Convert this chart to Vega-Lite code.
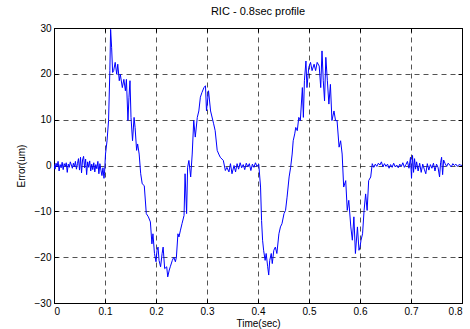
{
  "$schema": "https://vega.github.io/schema/vega-lite/v6.json",
  "autosize": "none",
  "width": 408,
  "height": 275,
  "padding": {"left": 54, "top": 28, "right": 8, "bottom": 26},
  "background": "white",
  "title": {"text": "RIC - 0.8sec profile", "font": "Liberation Sans", "fontSize": 11, "fontWeight": "normal", "color": "black", "offset": 6},
  "config": {
    "view": {"stroke": "black", "strokeWidth": 1},
    "axis": {"labelFont": "Liberation Sans", "titleFont": "Liberation Sans", "labelFontSize": 10, "titleFontSize": 10, "titleFontWeight": "normal", "labelColor": "black", "titleColor": "black", "domain": false, "tickColor": "black", "tickSize": -4}
  },
  "data": {"values": [
    {"t":0,"v":0.3},{"t":0.002,"v":-0.8},{"t":0.004,"v":0.5},{"t":0.006,"v":-0.3},{"t":0.008,"v":0.9},{"t":0.01,"v":-1.2},{"t":0.012,"v":0.2},{"t":0.014,"v":-0.5},{"t":0.016,"v":0.7},{"t":0.018,"v":-0.9},{"t":0.02,"v":0.4},{"t":0.022,"v":-0.2},{"t":0.024,"v":0.6},{"t":0.026,"v":-1.5},{"t":0.028,"v":0.3},{"t":0.03,"v":-0.4},{"t":0.032,"v":0.8},{"t":0.034,"v":0.1},{"t":0.036,"v":-0.6},{"t":0.038,"v":0.5},{"t":0.04,"v":-0.3},{"t":0.042,"v":0.9},{"t":0.044,"v":-0.8},{"t":0.046,"v":0.4},{"t":0.048,"v":1.5},{"t":0.05,"v":-1.0},{"t":0.052,"v":1.8},{"t":0.054,"v":-1.6},{"t":0.056,"v":1.2},{"t":0.058,"v":2.0},{"t":0.06,"v":-0.5},{"t":0.062,"v":1.4},{"t":0.064,"v":-2.0},{"t":0.066,"v":0.8},{"t":0.068,"v":-0.4},{"t":0.07,"v":1.0},{"t":0.072,"v":-1.2},{"t":0.074,"v":0.3},{"t":0.076,"v":-0.9},{"t":0.078,"v":0.6},{"t":0.08,"v":-1.4},{"t":0.082,"v":0.2},{"t":0.084,"v":-0.7},{"t":0.086,"v":0.9},{"t":0.088,"v":-1.8},{"t":0.09,"v":0.4},{"t":0.092,"v":-1.0},{"t":0.094,"v":-2.2},{"t":0.096,"v":-0.5},{"t":0.098,"v":-2.8},
    {"t":0.099,"v":-1.8},{"t":0.101,"v":2.5},{"t":0.104,"v":5.4},{"t":0.107,"v":9.8},{"t":0.1095,"v":20.7},{"t":0.111,"v":29.7},{"t":0.113,"v":25.7},{"t":0.115,"v":20.3},{"t":0.117,"v":20.7},{"t":0.12,"v":22.5},{"t":0.123,"v":19.9},{"t":0.125,"v":22.1},{"t":0.128,"v":18.5},{"t":0.13,"v":19.9},{"t":0.134,"v":17},{"t":0.137,"v":18.8},{"t":0.14,"v":16.3},{"t":0.142,"v":18.8},{"t":0.145,"v":9.8},{"t":0.147,"v":14.9},{"t":0.149,"v":18.5},{"t":0.151,"v":10.5},{"t":0.154,"v":5.4},{"t":0.157,"v":10.5},{"t":0.159,"v":8.3},{"t":0.162,"v":3.3},{"t":0.164,"v":4.7},{"t":0.167,"v":2.5},{"t":0.17,"v":-1.8},{"t":0.173,"v":-4},{"t":0.177,"v":-4.4},{"t":0.181,"v":-10.5},{"t":0.185,"v":-11.2},{"t":0.189,"v":-12.3},{"t":0.192,"v":-17.1},{"t":0.194,"v":-14.9},{"t":0.197,"v":-19.2},{"t":0.2,"v":-21},{"t":0.202,"v":-18.5},{"t":0.204,"v":-17.8},{"t":0.206,"v":-20.7},{"t":0.209,"v":-22.1},{"t":0.212,"v":-19.2},{"t":0.214,"v":-17.8},{"t":0.217,"v":-22.5},{"t":0.221,"v":-22.1},{"t":0.223,"v":-24.3},{"t":0.226,"v":-22.8},{"t":0.228,"v":-22.1},{"t":0.232,"v":-20.7},{"t":0.235,"v":-20},{"t":0.238,"v":-21},{"t":0.24,"v":-20},{"t":0.243,"v":-14.9},{"t":0.245,"v":-15.6},{"t":0.248,"v":-14.1},{"t":0.251,"v":-12.7},{"t":0.255,"v":-10.9},{"t":0.257,"v":-1.8},{"t":0.26,"v":-10.5},{"t":0.262,"v":-0.4},{"t":0.2645,"v":1.1},{"t":0.268,"v":-2.5},{"t":0.271,"v":2.5},{"t":0.274,"v":9.8},{"t":0.277,"v":6.2},{"t":0.281,"v":10.5},{"t":0.284,"v":11.9},{"t":0.287,"v":14.9},{"t":0.29,"v":15.9},{"t":0.294,"v":17},{"t":0.297,"v":17.4},{"t":0.299,"v":11.9},{"t":0.303,"v":16.3},{"t":0.307,"v":11.9},{"t":0.313,"v":9.1},{"t":0.316,"v":7.6},{"t":0.32,"v":3.3},{"t":0.323,"v":2.5},{"t":0.326,"v":1.8},{"t":0.332,"v":1.1},{"t":0.336,"v":-1.1},
    {"t":0.339,"v":-0.4},{"t":0.343,"v":-1.4},{"t":0.346,"v":0.4},{"t":0.349,"v":-1.8},{"t":0.353,"v":0},{"t":0.356,"v":-1.4},{"t":0.359,"v":0.4},{"t":0.362,"v":-0.8},{"t":0.365,"v":0.6},{"t":0.368,"v":-0.5},{"t":0.371,"v":0.2},{"t":0.374,"v":-0.9},{"t":0.377,"v":0.5},{"t":0.38,"v":-0.3},{"t":0.383,"v":0.4},{"t":0.386,"v":-1.1},{"t":0.389,"v":0.3},{"t":0.392,"v":-0.4},{"t":0.395,"v":0.6},{"t":0.398,"v":-0.2},{"t":0.4015,"v":0.3},
    {"t":0.405,"v":-4.7},{"t":0.407,"v":-12},{"t":0.409,"v":-16.3},{"t":0.411,"v":-18.5},{"t":0.414,"v":-20.7},{"t":0.416,"v":-19.2},{"t":0.419,"v":-22.1},{"t":0.421,"v":-23.9},{"t":0.423,"v":-20.7},{"t":0.426,"v":-19.2},{"t":0.428,"v":-21.4},{"t":0.431,"v":-18.5},{"t":0.434,"v":-17.8},{"t":0.437,"v":-19.2},{"t":0.441,"v":-14.9},{"t":0.444,"v":-13.4},{"t":0.447,"v":-12.7},{"t":0.451,"v":-10.5},{"t":0.454,"v":-9.8},{"t":0.457,"v":-6.9},{"t":0.461,"v":-2.5},{"t":0.464,"v":-0.4},{"t":0.467,"v":2.5},{"t":0.469,"v":5.4},{"t":0.472,"v":6.9},{"t":0.474,"v":8.3},{"t":0.477,"v":7.6},{"t":0.48,"v":10.5},{"t":0.483,"v":9.8},{"t":0.487,"v":17},{"t":0.489,"v":10.5},{"t":0.491,"v":18.5},{"t":0.494,"v":22.8},{"t":0.496,"v":17},{"t":0.4995,"v":21.4},{"t":0.503,"v":22.5},{"t":0.506,"v":20.7},{"t":0.51,"v":22.1},{"t":0.513,"v":20.7},{"t":0.516,"v":22.5},{"t":0.52,"v":21.7},{"t":0.523,"v":17},{"t":0.5255,"v":25},{"t":0.528,"v":18.5},{"t":0.5305,"v":14.1},{"t":0.533,"v":23.6},{"t":0.536,"v":18.5},{"t":0.539,"v":13.4},{"t":0.542,"v":17.7},{"t":0.545,"v":9.8},{"t":0.549,"v":11.9},{"t":0.552,"v":9.8},{"t":0.555,"v":9.8},{"t":0.559,"v":4},{"t":0.562,"v":5.4},{"t":0.565,"v":2.5},{"t":0.568,"v":-4.7},{"t":0.572,"v":-3.3},{"t":0.575,"v":-9.8},{"t":0.578,"v":-7.6},{"t":0.582,"v":-13.4},{"t":0.585,"v":-16.3},{"t":0.588,"v":-11.2},{"t":0.591,"v":-19.2},{"t":0.595,"v":-13.4},{"t":0.598,"v":-18.5},{"t":0.6,"v":-17.8},{"t":0.602,"v":-16.3},{"t":0.605,"v":-14.9},{"t":0.608,"v":-9.8},{"t":0.611,"v":-6.2},{"t":0.614,"v":-9.8},{"t":0.617,"v":-3.3},{"t":0.621,"v":-2.5},{"t":0.624,"v":0.4},{"t":0.627,"v":-0.4},
    {"t":0.63,"v":0.3},{"t":0.633,"v":-0.2},{"t":0.636,"v":0.5},{"t":0.639,"v":0.1},{"t":0.642,"v":0.8},{"t":0.645,"v":-0.3},{"t":0.648,"v":0.4},{"t":0.651,"v":-0.2},{"t":0.654,"v":0.3},{"t":0.657,"v":-0.6},{"t":0.66,"v":0.2},{"t":0.663,"v":-0.4},{"t":0.666,"v":0.5},{"t":0.669,"v":-0.3},{"t":0.672,"v":0.1},{"t":0.675,"v":-0.5},{"t":0.678,"v":0.3},{"t":0.681,"v":-0.2},{"t":0.684,"v":0.6},{"t":0.687,"v":-0.4},{"t":0.69,"v":0.2},{"t":0.693,"v":0.9},{"t":0.696,"v":-0.6},{"t":0.699,"v":1.8},{"t":0.701,"v":-2.8},{"t":0.703,"v":2.2},{"t":0.705,"v":-1.5},{"t":0.707,"v":1.5},{"t":0.709,"v":-0.8},{"t":0.711,"v":0.8},{"t":0.714,"v":-1.2},{"t":0.717,"v":0.5},{"t":0.72,"v":-1.5},{"t":0.723,"v":0.3},{"t":0.726,"v":-0.8},{"t":0.729,"v":-1.8},{"t":0.732,"v":0.4},{"t":0.735,"v":-1.0},{"t":0.738,"v":0.2},{"t":0.741,"v":-0.6},{"t":0.744,"v":0.5},{"t":0.747,"v":-1.2},{"t":0.75,"v":0.3},{"t":0.753,"v":-0.4},{"t":0.756,"v":-2.5},{"t":0.758,"v":0.6},{"t":0.76,"v":1.8},{"t":0.762,"v":-2.0},{"t":0.764,"v":1.2},{"t":0.767,"v":0.4},{"t":0.77,"v":-0.2},{"t":0.773,"v":0.5},{"t":0.776,"v":0.1},{"t":0.779,"v":-0.3},{"t":0.782,"v":0.4},{"t":0.785,"v":0},{"t":0.788,"v":0.3},{"t":0.791,"v":-0.2},{"t":0.794,"v":0.2},{"t":0.797,"v":0.1},{"t":0.8,"v":0}
  ]},
  "layer": [
    {
      "mark": {"type": "line", "color": "#0000ff", "strokeWidth": 1, "clip": true},
      "encoding": {
        "x": {"field": "t", "type": "quantitative", "scale": {"domain": [0, 0.8], "nice": false, "zero": false}, "axis": {"title": "Time(sec)", "values": [0,0.1,0.2,0.3,0.4,0.5,0.6,0.7,0.8], "format": "~g", "labelPadding": 7, "titlePadding": 2, "grid": true, "gridColor": "black", "gridDash": [5, 4], "gridWidth": 0.8, "gridOpacity": 0.85}},
        "y": {"field": "v", "type": "quantitative", "scale": {"domain": [-30, 30], "nice": false}, "axis": {"title": "Error(um)", "values": [-30,-20,-10,0,10,20,30], "labelPadding": 7, "titlePadding": 8, "grid": true, "gridColor": "black", "gridDash": [5, 4], "gridWidth": 0.8, "gridOpacity": 0.85}}
      }
    },
    {
      "mark": {"type": "line", "opacity": 0, "clip": true},
      "encoding": {
        "x": {"field": "t", "type": "quantitative", "scale": {"domain": [0, 0.8], "nice": false, "zero": false}, "axis": {"orient": "top", "title": null, "labels": false, "grid": false, "values": [0,0.1,0.2,0.3,0.4,0.5,0.6,0.7,0.8]}},
        "y": {"field": "v", "type": "quantitative", "scale": {"domain": [-30, 30], "nice": false}, "axis": {"orient": "right", "title": null, "labels": false, "grid": false, "values": [-30,-20,-10,0,10,20,30]}}
      }
    }
  ],
  "resolve": {"axis": {"x": "independent", "y": "independent"}}
}
